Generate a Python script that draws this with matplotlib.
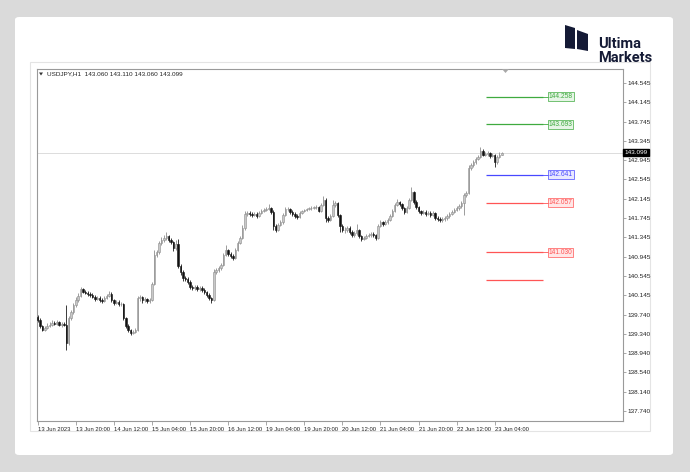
import numpy as np
import matplotlib.pyplot as plt
from matplotlib.patches import Rectangle, Polygon, FancyBboxPatch

W, H = 690, 472
plt.rcParams['font.family'] = ['Liberation Sans', 'DejaVu Sans']

# USDJPY H1 candles (bar 0 = 13 Jun 04:00)
first_open = 139.70
closes = [
    139.628, 139.504, 139.421, 139.462, 139.504, 139.525, 139.566, 139.545, 139.587, 139.525,
    139.545, 139.525, 139.151, 139.670, 139.794, 139.940, 140.043, 140.126, 140.272, 140.209,
    140.189, 140.168, 140.147, 140.106, 140.064, 140.085, 140.043, 140.023, 140.085, 140.126,
    140.168, 140.043, 139.981, 140.002, 139.960, 139.960, 139.670, 139.504, 139.421, 139.359,
    139.379, 139.421, 140.085, 140.106, 140.043, 140.064, 140.023, 140.043, 140.375, 140.977,
    141.039, 141.226, 141.288, 141.330, 141.371, 141.288, 141.247, 141.122, 141.205, 140.749,
    140.624, 140.500, 140.479, 140.417, 140.313, 140.292, 140.313, 140.272, 140.292, 140.251,
    140.209, 140.147, 140.085, 140.043, 140.624, 140.666, 140.707, 140.769, 140.977, 141.081,
    140.998, 140.956, 140.915, 141.081, 141.226, 141.330, 141.537, 141.828, 141.848, 141.828,
    141.807, 141.828, 141.786, 141.848, 141.890, 141.911, 141.931, 141.952, 141.869, 141.579,
    141.496, 141.599, 141.662, 141.807, 141.931, 141.931, 141.869, 141.828, 141.786, 141.765,
    141.848, 141.890, 141.911, 141.931, 141.952, 141.952, 141.973, 141.973, 141.890, 142.014,
    142.118, 141.745, 141.703, 141.786, 142.014, 142.056, 141.807, 141.579, 141.496, 141.496,
    141.537, 141.454, 141.392, 141.433, 141.496, 141.371, 141.309, 141.330, 141.371, 141.392,
    141.413, 141.392, 141.330, 141.579, 141.662, 141.620, 141.662, 141.703, 141.786, 141.890,
    142.014, 142.077, 142.035, 141.952, 141.869, 141.952, 142.118, 142.284, 142.077, 141.973,
    141.890, 141.848, 141.869, 141.828, 141.848, 141.807, 141.848, 141.745, 141.724, 141.703,
    141.724, 141.745, 141.786, 141.828, 141.869, 141.911, 141.952, 141.994, 142.056, 142.222,
    142.263, 142.782, 142.844, 142.906, 142.969, 143.010, 143.135, 143.052, 143.072, 143.093,
    143.031, 143.052, 142.906, 143.010, 143.060, 143.099]
highs = [
    139.74, 139.66, 139.53, 139.50, 139.56, 139.58, 139.62, 139.60, 139.63, 139.61,
    139.58, 139.58, 139.94, 139.72, 139.84, 139.99, 140.10, 140.18, 140.31, 140.30,
    140.25, 140.22, 140.20, 140.18, 140.14, 140.13, 140.12, 140.08, 140.12, 140.17,
    140.22, 140.20, 140.07, 140.05, 140.04, 140.00, 139.99, 139.70, 139.54, 139.45,
    139.42, 139.46, 140.12, 140.15, 140.13, 140.10, 140.09, 140.08, 140.42, 141.08,
    141.09, 141.27, 141.34, 141.39, 141.45, 141.40, 141.32, 141.27, 141.29, 141.30,
    140.79, 140.66, 140.55, 140.52, 140.45, 140.35, 140.36, 140.35, 140.33, 140.33,
    140.29, 140.24, 140.18, 140.11, 140.69, 140.71, 140.75, 140.82, 141.02, 141.18,
    141.11, 141.04, 140.99, 141.12, 141.27, 141.38, 141.60, 141.88, 141.89, 141.88,
    141.86, 141.87, 141.86, 141.89, 141.93, 141.95, 141.97, 142.04, 141.98, 141.90,
    141.62, 141.64, 141.71, 141.85, 141.98, 141.98, 141.96, 141.90, 141.86, 141.82,
    141.88, 141.92, 141.94, 141.96, 141.98, 141.99, 142.00, 142.01, 142.00, 142.06,
    142.20, 142.15, 141.78, 141.83, 142.12, 142.10, 142.08, 141.83, 141.61, 141.55,
    141.58, 141.57, 141.49, 141.47, 141.62, 141.52, 141.40, 141.37, 141.41, 141.43,
    141.45, 141.45, 141.42, 141.62, 141.70, 141.69, 141.70, 141.74, 141.82, 141.93,
    142.06, 142.13, 142.10, 142.06, 141.98, 141.99, 142.16, 142.38, 142.31, 142.11,
    142.00, 141.92, 141.90, 141.90, 141.88, 141.88, 141.89, 141.87, 141.78, 141.76,
    141.76, 141.78, 141.82, 141.87, 141.91, 141.95, 141.99, 142.04, 142.10, 142.27,
    142.31, 142.84, 142.89, 142.95, 143.01, 143.06, 143.21, 143.17, 143.11, 143.13,
    143.12, 143.09, 143.08, 143.05, 143.11, 143.110]
lows = [
    139.59, 139.47, 139.39, 139.40, 139.44, 139.48, 139.50, 139.52, 139.52, 139.50,
    139.49, 139.50, 139.00, 139.10, 139.62, 139.76, 139.90, 140.00, 140.10, 140.18,
    140.16, 140.13, 140.11, 140.08, 140.03, 140.04, 140.01, 139.99, 140.00, 140.06,
    140.10, 140.01, 139.94, 139.95, 139.92, 139.92, 139.63, 139.46, 139.38, 139.32,
    139.33, 139.35, 139.40, 140.03, 139.99, 140.00, 139.98, 139.99, 140.02, 140.35,
    140.94, 141.00, 141.19, 141.25, 141.29, 141.25, 141.20, 141.06, 141.09, 140.70,
    140.57, 140.44, 140.43, 140.37, 140.27, 140.25, 140.26, 140.23, 140.24, 140.21,
    140.17, 140.11, 140.05, 139.98, 140.02, 140.58, 140.62, 140.67, 140.74, 140.95,
    140.96, 140.92, 140.87, 140.89, 141.05, 141.20, 141.30, 141.50, 141.79, 141.79,
    141.77, 141.78, 141.75, 141.76, 141.82, 141.86, 141.88, 141.90, 141.83, 141.50,
    141.45, 141.47, 141.57, 141.63, 141.78, 141.89, 141.83, 141.79, 141.75, 141.72,
    141.74, 141.82, 141.87, 141.89, 141.91, 141.92, 141.93, 141.94, 141.86, 141.87,
    141.99, 141.66, 141.66, 141.68, 141.76, 141.98, 141.77, 141.45, 141.45, 141.44,
    141.46, 141.41, 141.35, 141.36, 141.39, 141.33, 141.27, 141.28, 141.30, 141.34,
    141.36, 141.36, 141.29, 141.31, 141.55, 141.58, 141.59, 141.63, 141.68, 141.76,
    141.86, 141.99, 141.99, 141.91, 141.83, 141.84, 141.93, 142.09, 142.03, 141.93,
    141.85, 141.81, 141.82, 141.79, 141.80, 141.77, 141.78, 141.71, 141.69, 141.67,
    141.67, 141.69, 141.71, 141.75, 141.80, 141.84, 141.88, 141.92, 141.96, 141.80,
    142.19, 142.24, 142.75, 142.81, 142.87, 142.94, 142.98, 143.02, 143.02, 143.04,
    142.99, 143.00, 142.80, 142.87, 142.98, 143.060]
opens = [first_open] + closes[:-1]

date_labels = ["13 Jun 2023", "13 Jun 20:00", "14 Jun 12:00", "15 Jun 04:00", "15 Jun 20:00",
               "16 Jun 12:00", "19 Jun 04:00", "19 Jun 20:00", "20 Jun 12:00", "21 Jun 04:00",
               "21 Jun 20:00", "22 Jun 12:00", "23 Jun 04:00"]
price_ticks = [144.545, 144.145, 143.745, 143.345, 142.945, 142.545, 142.145, 141.745, 141.345,
               140.945, 140.545, 140.145, 139.740, 139.340, 138.940, 138.540, 138.140, 137.740]
level_prices = [144.258, 143.693, 142.641, 142.057, 141.030, 140.458]
level_kinds = ["tp", "tp", "entry", "sl", "sl", "sl"]
level_shown = [True, True, True, True, True, False]
last_price = 143.099

kind_style = {"tp": ("#3faa3f", "#e6f5e6"), "entry": ("#4848ff", "#e8e8ff"), "sl": ("#ff5555", "#ffe6e6")}


def fx(px):
    return px / W


def fy(py):
    return 1 - py / H


fig = plt.figure(figsize=(W / 100, H / 100), dpi=100)
fig.patch.set_facecolor("#dadada")

# white card + terminal frame
fig.patches.append(FancyBboxPatch((fx(15), fy(455)), fx(658), 438 / H, boxstyle="round,pad=0,rounding_size=0.006",
                                  transform=fig.transFigure, facecolor="white", edgecolor="none", zorder=-2))
fig.patches.append(Rectangle((fx(30), fy(431)), fx(620), 369 / H, transform=fig.transFigure,
                             facecolor="none", edgecolor="#e4e4e4", lw=0.8, zorder=-1))

ax = fig.add_axes([fx(37), fy(421), fx(586), 352 / H])
ax.set_zorder(3)
ax.set_facecolor("white")
for s in ax.spines.values():
    s.set_color("#9a9a9a")
    s.set_linewidth(0.8)

idx = np.arange(len(closes))
o = np.array(opens)
c = np.array(closes)
hi = np.array(highs)
lo = np.array(lows)
up = c >= o

ax.vlines(idx[up], lo[up], hi[up], color="#9c9c9c", lw=0.7, zorder=2)
ax.vlines(idx[~up], lo[~up], hi[~up], color="#3a3a3a", lw=0.7, zorder=2)
body_h = np.maximum(np.abs(c - o), 0.006)
ax.bar(idx[up], body_h[up], bottom=o[up], width=0.62, color="#c8c8c8", edgecolor="#8c8c8c", lw=0.4, zorder=3)
ax.bar(idx[~up], body_h[~up], bottom=c[~up], width=0.62, color="#111111", edgecolor="#111111", lw=0.4, zorder=3)

ax.set_xlim(-0.3, 245.9)
ax.set_ylim(137.533, 144.835)

# current price line
ax.axhline(last_price, color="#dcdcdc", lw=0.7, zorder=1)

# trade levels
for p, k, show in zip(level_prices, level_kinds, level_shown):
    col, fill = kind_style[k]
    ax.hlines(p, 188.2, 212.2, color=col, lw=0.9, zorder=4)
    if show:
        ax.plot([212.2, 214.4], [p, p], color=col, lw=0.6, zorder=4)
        ax.text(214.6, p, f"{p:.3f}", fontsize=4.8, color=col, va="center", ha="left", zorder=5,
                bbox=dict(boxstyle="square,pad=0.15", facecolor=fill, edgecolor=col, lw=0.5))

ax.set_xticks(range(0, 193, 16))
ax.set_xticklabels(date_labels, ha="left")
ax.tick_params(axis="x", length=3, width=0.6, color="#9a9a9a", pad=1.5, labelsize=4.2, labelcolor="#222222")
for lbl in ax.get_xticklabels():
    lbl.set_x(lbl.get_position()[0])
ax.yaxis.tick_right()
ax.set_yticks(price_ticks)
ax.set_yticklabels([f"{v:.3f}" for v in price_ticks])
ax.tick_params(axis="y", length=2, width=0.6, color="#9a9a9a", pad=1.2, labelsize=4.6, labelcolor="#222222")

# last price tag on the axis
ax.text(1.003, last_price, f"{last_price:.3f}", transform=ax.get_yaxis_transform(), fontsize=4.6,
        color="white", va="center", ha="left", zorder=6, clip_on=False,
        bbox=dict(boxstyle="square,pad=0.2", facecolor="black", edgecolor="black"))

# header line
fig.text(fx(47), fy(74), "USDJPY,H1  143.060 143.110 143.060 143.099", fontsize=4.6, color="#222222",
         va="center", ha="left", zorder=10)
fig.patches.append(Polygon([[fx(39), fy(72.5)], [fx(43), fy(72.5)], [fx(41), fy(75.5)]], closed=True,
                           transform=fig.transFigure, facecolor="#333333", edgecolor="none", zorder=10))
# chart shift marker
fig.patches.append(Polygon([[fx(502), fy(69)], [fx(509), fy(69)], [fx(505.5), fy(73)]], closed=True,
                           transform=fig.transFigure, facecolor="#a8a8a8", edgecolor="none", zorder=10))

# logo
navy = "#141a35"
fig.patches.append(Polygon([[fx(565), fy(25)], [fx(575), fy(28)], [fx(575), fy(49)], [fx(565), fy(48)]],
                           closed=True, transform=fig.transFigure, facecolor=navy, edgecolor="none", zorder=5))
fig.patches.append(Polygon([[fx(577), fy(30)], [fx(588), fy(34)], [fx(588), fy(51)], [fx(577), fy(49)]],
                           closed=True, transform=fig.transFigure, facecolor=navy, edgecolor="none", zorder=5))
fig.text(fx(598), fy(48.5), "Ultima", fontsize=10.5, fontweight="bold", color=navy, family="Roboto",
         va="baseline", ha="left")
fig.text(fx(598), fy(62.5), "Markets", fontsize=10.5, fontweight="bold", color=navy, family="Roboto",
         va="baseline", ha="left")

fig.savefig("out.png", dpi=100, facecolor=fig.get_facecolor())
